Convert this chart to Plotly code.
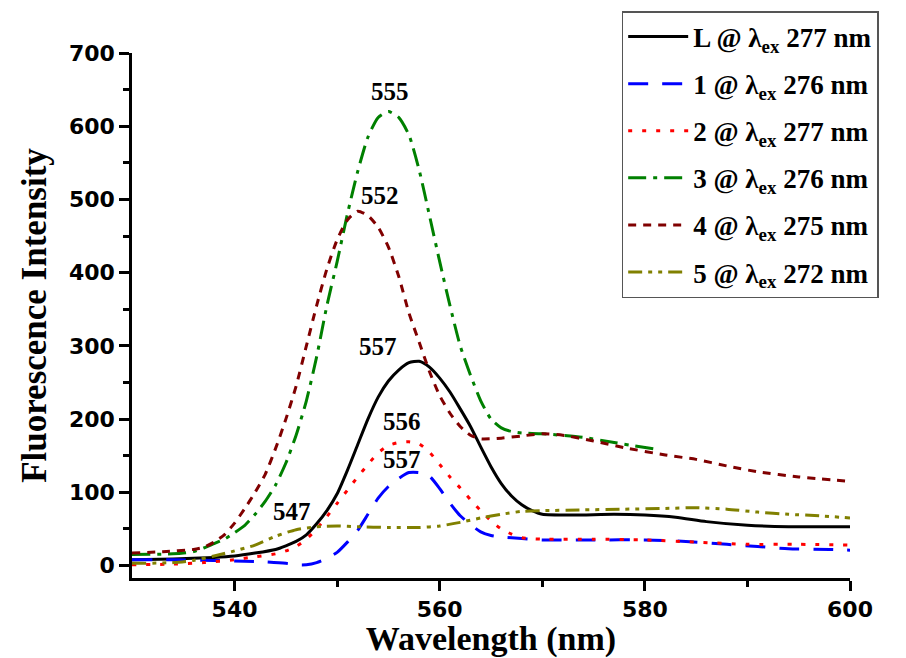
import plotly.graph_objects as go

# ---- data ----
L_x = [530, 534, 538, 540, 542, 544, 545, 546, 547, 548, 549, 550, 551, 552, 553, 554, 555, 556, 557, 558,
       559, 560, 561, 562, 563, 564, 565, 566, 567, 568, 569, 570, 573, 577, 580, 583, 586, 590, 594, 600]
L_y = [8, 9, 11, 13, 17, 22, 27, 33, 42, 57, 75, 98, 130, 165, 200, 230, 252, 267, 277, 279,
       271, 256, 237, 214, 190, 162, 135, 112, 95, 83, 75, 70, 69, 70, 69, 66, 60, 55, 53, 53]

c1_x = [530, 534, 538, 541, 543, 545, 546, 547, 548, 549, 550, 551, 552, 553, 554, 555, 556, 557, 558,
        559, 560, 561, 562, 563, 564, 565, 566, 568, 570, 575, 580, 584, 588, 591, 594, 598, 600]
c1_y = [8, 8, 7, 6, 5, 3, 1, 1, 4, 10, 18, 32, 48, 70, 92, 108, 119, 127, 127,
        122, 105, 85, 68, 56, 46, 41, 39, 37, 35, 35, 35, 33, 29, 26, 23, 22, 21]

c2_x = [530, 534, 537, 540, 542, 544, 545, 546, 547, 548, 549, 550, 551, 552, 553, 554, 555, 556, 557, 558,
        559, 560, 561, 562, 563, 564, 565, 566, 567, 568, 570, 575, 580, 585, 590, 595, 600]
c2_y = [1, 2, 4, 8, 12, 16, 20, 26, 36, 50, 67, 85, 103, 121, 138, 154, 164, 168, 169, 166,
        155, 138, 121, 106, 90, 75, 61, 50, 43, 38, 36, 36, 35, 32, 29, 29, 28]

c3_x = [530, 534, 536, 537, 538, 539, 540, 541, 542, 543, 544, 545, 546, 547, 548, 549, 550, 551, 552, 553,
        554, 555, 556, 557, 558, 559, 560, 561, 562, 563, 564, 565, 566, 567, 568, 570, 574, 577, 581]
c3_y = [15, 16, 19, 24, 30, 36, 45, 55, 70, 88, 110, 140, 178, 225, 285, 355, 415, 480, 538, 585,
        612, 620, 612, 588, 540, 478, 415, 355, 300, 260, 225, 200, 188, 183, 181, 180, 175, 168, 159]

c4_x = [530, 533, 536, 537, 538, 539, 540, 541, 542, 543, 544, 545, 546, 547, 548, 549, 550, 551, 552, 553,
        554, 555, 556, 557, 558, 559, 560, 561, 562, 563, 564, 566, 568, 570, 572, 575, 578, 582, 585, 588,
        591, 595, 600]
c4_y = [17, 19, 22, 25, 32, 42, 58, 78, 100, 125, 160, 200, 245, 300, 355, 405, 445, 472, 484, 478,
        462, 435, 395, 345, 305, 265, 232, 208, 190, 178, 173, 174, 177, 180, 178, 170, 161, 151, 145, 136,
        128, 121, 115]

c5_x = [530, 534, 536, 538, 540, 542, 544, 546, 548, 550, 552, 555, 558, 560, 562, 564, 566, 568, 570, 574,
        578, 582, 585, 588, 591, 594, 597, 600]
c5_y = [3, 4, 7, 13, 20, 28, 40, 49, 53, 54, 53, 52, 52, 54, 59, 65, 70, 74, 75, 76,
        77, 78, 79, 77, 73, 70, 68, 65]

names = ["L", "1", "2", "3", "4", "5"]
lambdas = [277, 276, 277, 276, 275, 272]
colors = ["#000000", "#0000FF", "#FF0000", "#008000", "#800000", "#808000"]
dashes = ["solid", "20px,14px", "4px,10px", "18px,7px,4px,7px", "8px,7px", "14px,6px,4px,6px,4px,6px"]
xs = [L_x, c1_x, c2_x, c3_x, c4_x, c5_x]
ys = [L_y, c1_y, c2_y, c3_y, c4_y, c5_y]

peak_labels = ["555", "552", "557", "556", "557", "547"]
peak_lx = [555.2, 554.2, 554.0, 556.3, 556.3, 545.6]
peak_ly = [647, 506, 299, 197, 145, 74]

fig = go.Figure()
for i in range(6):
    fig.add_trace(go.Scatter(
        x=xs[i], y=ys[i], mode="lines",
        line=dict(color=colors[i], width=3, dash=dashes[i], shape="spline", smoothing=0.6),
        name=f"<b>{names[i]} @ λ<sub>ex</sub> {lambdas[i]} nm</b>",
        legendgroup=f"g{i}",
    ))

for t, lx, ly in zip(peak_labels, peak_lx, peak_ly):
    fig.add_annotation(x=lx, y=ly, text=f"<b>{t}</b>", showarrow=False,
                       font=dict(family="Liberation Serif", size=25, color="black"))

fig.update_layout(
    width=906, height=658,
    margin=dict(l=132, r=56, t=53, b=80, autoexpand=False),
    paper_bgcolor="white", plot_bgcolor="white",
    showlegend=True,
    legend=dict(
        x=0.682, xanchor="left", y=1.08, yanchor="top",
        bordercolor="#555555", borderwidth=1.5, bgcolor="white",
        font=dict(family="Liberation Serif", size=27, color="black"),
        tracegroupgap=9, itemwidth=60,
    ),
)
fig.update_xaxes(
    range=[530, 600], showgrid=False, zeroline=False, automargin=False,
    showline=True, linecolor="black", linewidth=2.5,
    ticks="outside", ticklen=10, tickwidth=2.5, tickcolor="black",
    tickvals=[540, 560, 580, 600],
    tickfont=dict(family="DejaVu Sans", size=22, color="black", weight="bold"),
    minor=dict(tickvals=[550, 570, 590], ticks="outside", ticklen=6, tickwidth=2.5, tickcolor="black"),
    title=dict(text="<b>Wavelength (nm)</b>", standoff=9,
               font=dict(family="Liberation Serif", size=34, color="black")),
)
fig.update_yaxes(
    range=[-17, 700], showgrid=False, zeroline=False, automargin=False,
    showline=True, linecolor="black", linewidth=2.5,
    ticks="outside", ticklen=10, tickwidth=2.5, tickcolor="black",
    tickvals=[0, 100, 200, 300, 400, 500, 600, 700],
    tickfont=dict(family="DejaVu Sans", size=22, color="black", weight="bold"),
    minor=dict(tickvals=[50, 150, 250, 350, 450, 550, 650], ticks="outside", ticklen=6, tickwidth=2.5,
               tickcolor="black"),
    title=dict(text="<b>Fluorescence Intensity</b>", standoff=12,
               font=dict(family="Liberation Serif", size=35, color="black")),
)

fig.write_html("out.html")
